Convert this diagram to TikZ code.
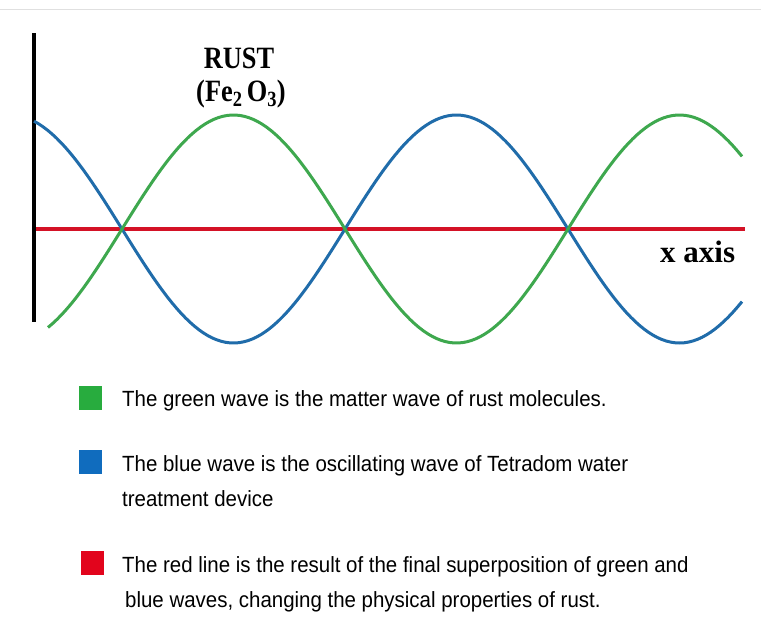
\documentclass[tikz,border=0pt]{standalone}
\usepackage{fontspec}
\setmainfont{Liberation Serif}
\setsansfont{Liberation Sans}
\usepackage{xcolor}
\definecolor{wavegreen}{RGB}{62,168,78}
\definecolor{waveblue}{RGB}{32,108,170}
\definecolor{linered}{RGB}{212,18,38}
\definecolor{keygreen}{RGB}{40,172,62}
\definecolor{keyblue}{RGB}{16,108,190}
\definecolor{keyred}{RGB}{226,4,28}
\newcommand{\keytxt}[1]{\scalebox{0.93}[1]{#1}}

\begin{document}
\begin{tikzpicture}[x=1pt,y=-1pt,
    wave/.style={line width=3pt},
    keybox/.style={minimum width=23pt,minimum height=24pt,inner sep=0pt},
    keytext/.style={anchor=base west,inner sep=0pt,font=\sffamily\fontsize{22}{26}\selectfont},
    title/.style={inner sep=0pt,font=\bfseries\fontsize{31}{35}\selectfont}]
        \useasboundingbox (0,0) rectangle (761,635);
        \draw[black!12] (0,9) -- (761,9);
        % axes
        \coordinate (top) at (34,33);
        \coordinate (bot) at (34,322);
        \coordinate (orig) at (34,229);
        \coordinate (xend) at (745,229);
        \draw[line width=4.5pt,linered] (orig) -- (xend);
        \draw[line width=4pt] (top) -- (bot);
        % waves
        \draw[wave,waveblue] plot[domain=34:742,samples=160] (\x,{229-114*cos((\x-10.5)/223*180)});
        \draw[wave,wavegreen] plot[domain=48:742,samples=160] (\x,{229+114*cos((\x-10.5)/223*180)});
        % labels
        \node[title,anchor=base] (rust) at (239,68) {\scalebox{0.85}[1]{RUST}};
        \node[title,anchor=base] (formula) at (241,101) {\scalebox{0.85}[1]{(Fe\textsubscript{2}\,O\textsubscript{3})}};
        \node[title,anchor=base west] (xlabel) at (660,262) {x axis};
        % legend
        \node[keybox,fill=keygreen] (kgreen) at (90,398) {};
        \node[keytext] (tgreen) at (122,406) {\keytxt{The green wave is the matter wave of rust molecules.}};
        \node[keybox,fill=keyblue] (kblue) at (90,462) {};
        \node[keytext] (tblue) at (122,471) {\keytxt{The blue wave is the oscillating wave of Tetradom water}};
        \node[keytext] (tblue2) at (122,506) {\keytxt{treatment device}};
        \node[keybox,fill=keyred] (kred) at (92,563) {};
        \node[keytext] (tred) at (122,572) {\keytxt{The red line is the result of the final superposition of green and}};
        \node[keytext] (tred2) at (125,607) {\keytxt{blue waves, changing the physical properties of rust.}};
\end{tikzpicture}
\end{document}
